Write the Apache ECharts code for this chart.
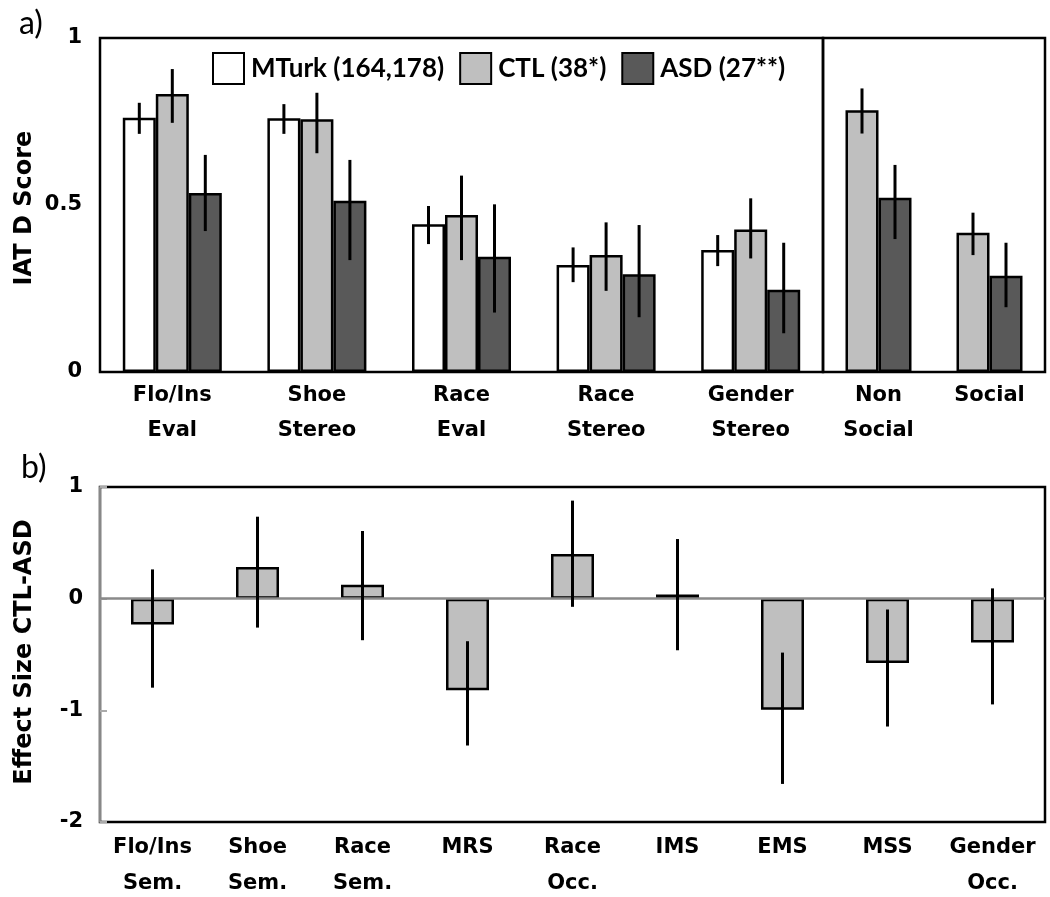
<!DOCTYPE html>
<html>
<head>
<meta charset="utf-8">
<script src="https://cdn.jsdelivr.net/npm/echarts@6/dist/echarts.min.js"></script>
<style>html,body{margin:0;padding:0;background:#fff}#c{width:1050px;height:897px}</style>
</head>
<body>
<div id="c"></div>
<script>
// ---- Panel a) data ----
const catsA = ['Flo/Ins\nEval', 'Shoe\nStereo', 'Race\nEval', 'Race\nStereo', 'Gender\nStereo'];
const catsB = ['Non\nSocial', 'Social'];
const mturk   = [0.761, 0.760, 0.442, 0.320, 0.365];
const mturkLo = [0.713, 0.713, 0.383, 0.269, 0.317];
const mturkHi = [0.806, 0.802, 0.497, 0.373, 0.410];
const ctl     = [0.832, 0.757, 0.470, 0.350, 0.427];
const ctlLo   = [0.746, 0.655, 0.335, 0.243, 0.340];
const ctlHi   = [0.907, 0.836, 0.588, 0.448, 0.520];
const asd     = [0.536, 0.513, 0.345, 0.293, 0.246];
const asdLo   = [0.422, 0.335, 0.178, 0.164, 0.116];
const asdHi   = [0.650, 0.635, 0.502, 0.440, 0.387];
const ctl2    = [0.784, 0.417];
const ctl2Lo  = [0.714, 0.350];
const ctl2Hi  = [0.849, 0.477];
const asd2    = [0.522, 0.288];
const asd2Lo  = [0.398, 0.194];
const asd2Hi  = [0.620, 0.387];
const yTicksA = [0, 0.5, 1];
// ---- Panel b) data ----
const effCats = ['Flo/Ins\nSem.', 'Shoe\nSem.', 'Race\nSem.', 'MRS', 'Race\nOcc.', 'IMS', 'EMS', 'MSS', 'Gender\nOcc.'];
const eff   = [-0.232, 0.283, 0.124, -0.821, 0.400, 0.038, -0.995, -0.576, -0.393];
const effLo = [-0.797, -0.259, -0.372, -1.315, -0.073, -0.462, -1.659, -1.145, -0.947];
const effHi = [0.262, 0.734, 0.606, -0.381, 0.878, 0.534, -0.483, -0.097, 0.092];
const yTicksB = [-2, -1, 0, 1];

const FONT = 'DejaVu Sans';
const LFONT = 'Lato';
const BW = 33;      // bar width panel a
const BW2 = 43;     // bar width panel b
const colMT = '#ffffff', colCTL = '#bfbfbf', colASD = '#595959';

function errData(lo, hi) { return lo.map((v, i) => [i, v, hi[i]]); }
function errRender(offset) {
  return function (params, api) {
    const x = api.value(0);
    const p1 = api.coord([x, api.value(1)]);
    const p2 = api.coord([x, api.value(2)]);
    return { type: 'line', shape: { x1: p1[0] + offset, y1: p1[1], x2: p2[0] + offset, y2: p2[1] },
             style: { stroke: '#000', lineWidth: 3 } };
  };
}
function errSeries(xi, yi, lo, hi, offset) {
  return { type: 'custom', xAxisIndex: xi, yAxisIndex: yi, z: 5, silent: true,
           renderItem: errRender(offset), encode: { x: 0, y: [1, 2] }, data: errData(lo, hi) };
}
function barSeries(name, xi, yi, data, color, bw) {
  return { name: name, type: 'bar', xAxisIndex: xi, yAxisIndex: yi, data: data, barWidth: bw, barGap: '0%',
           itemStyle: { color: color, borderColor: '#000', borderWidth: 2.5 }, silent: true };
}
const labelStyle = { color: '#000', fontFamily: FONT, fontWeight: 'bold', fontSize: 21 };

const chart = echarts.init(document.getElementById('c'), null, { renderer: 'canvas' });
chart.setOption({
  animation: false,
  backgroundColor: '#fff',
  grid: [
    { left: 100, top: 38, width: 723, height: 334, show: true, borderColor: '#000', borderWidth: 2.5,
      backgroundColor: 'transparent', containLabel: false, outerBoundsMode: 'none' },
    { left: 823, top: 38, width: 222, height: 334, show: true, borderColor: '#000', borderWidth: 2.5,
      backgroundColor: 'transparent', containLabel: false, outerBoundsMode: 'none' },
    { left: 100, top: 487, width: 945, height: 335, show: true, borderColor: '#000', borderWidth: 2.5,
      backgroundColor: 'transparent', containLabel: false, outerBoundsMode: 'none' }
  ],
  legend: {
    left: 207, top: 47, itemWidth: 31, itemHeight: 31, itemGap: 15, icon: 'rect',
    data: ['MTurk (164,178)', 'CTL (38*)', 'ASD (27**)'],
    textStyle: { color: '#000', fontFamily: LFONT, fontWeight: 'bold', fontSize: 26, padding: [0, 0, 0, 2] },
    selectedMode: false
  },
  xAxis: [
    { type: 'category', gridIndex: 0, data: catsA, axisLine: { show: false }, axisTick: { show: false },
      axisLabel: Object.assign({ margin: 6, lineHeight: 35, interval: 0 }, labelStyle) },
    { type: 'category', gridIndex: 1, data: catsB, axisLine: { show: false }, axisTick: { show: false },
      axisLabel: Object.assign({ margin: 6, lineHeight: 35, interval: 0 }, labelStyle) },
    { type: 'category', gridIndex: 2, data: effCats, axisLine: { show: false }, axisTick: { show: false },
      axisLabel: Object.assign({ margin: 8, lineHeight: 36, interval: 0 }, labelStyle) }
  ],
  yAxis: [
    { type: 'value', gridIndex: 0, min: yTicksA[0], max: yTicksA[yTicksA.length - 1], interval: 0.5,
      axisLine: { show: false }, axisTick: { show: false }, splitLine: { show: false },
      axisLabel: Object.assign({ margin: 18, formatter: v => String(v) }, labelStyle) },
    { type: 'value', gridIndex: 1, min: 0, max: 1, interval: 0.5,
      axisLine: { show: false }, axisTick: { show: false }, splitLine: { show: false }, axisLabel: { show: false } },
    { type: 'value', gridIndex: 2, min: yTicksB[0], max: yTicksB[yTicksB.length - 1], interval: 1,
      axisLine: { show: true, lineStyle: { color: '#888', width: 2 } },
      axisTick: { show: true, inside: true, length: 7, lineStyle: { color: '#aaa', width: 2 } },
      splitLine: { show: false },
      axisLabel: Object.assign({ margin: 17, formatter: v => String(v) }, labelStyle) }
  ],
  series: [
    barSeries('MTurk (164,178)', 0, 0, mturk, colMT, BW),
    barSeries('CTL (38*)', 0, 0, ctl, colCTL, BW),
    barSeries('ASD (27**)', 0, 0, asd, colASD, BW),
    errSeries(0, 0, mturkLo, mturkHi, -BW),
    errSeries(0, 0, ctlLo, ctlHi, 0),
    errSeries(0, 0, asdLo, asdHi, BW),
    barSeries('CTL (38*)', 1, 1, ctl2, colCTL, BW),
    barSeries('ASD (27**)', 1, 1, asd2, colASD, BW),
    errSeries(1, 1, ctl2Lo, ctl2Hi, -BW / 2),
    errSeries(1, 1, asd2Lo, asd2Hi, BW / 2),
    Object.assign(barSeries('Effect', 2, 2, eff, colCTL, BW2), {
      markLine: { silent: true, symbol: 'none', label: { show: false },
                  lineStyle: { color: '#8a8a8a', width: 2.5, type: 'solid' }, data: [{ yAxis: 0 }] }
    }),
    errSeries(2, 2, effLo, effHi, 0)
  ],
  graphic: [
    { type: 'text', left: 19, top: 8, style: { text: 'a)', fill: '#000', font: '32px ' + LFONT } },
    { type: 'text', left: 21, top: 452, style: { text: 'b)', fill: '#000', font: '32px ' + LFONT } },
    { type: 'text', x: 25, y: 208, rotation: Math.PI / 2,
      style: { text: 'IAT D Score', fill: '#000', font: 'bold 24px ' + FONT, align: 'center', verticalAlign: 'middle' } },
    { type: 'text', x: 25, y: 652, rotation: Math.PI / 2,
      style: { text: 'Effect Size CTL-ASD', fill: '#000', font: 'bold 24px ' + FONT, align: 'center', verticalAlign: 'middle' } }
  ]
});
</script>
</body>
</html>
